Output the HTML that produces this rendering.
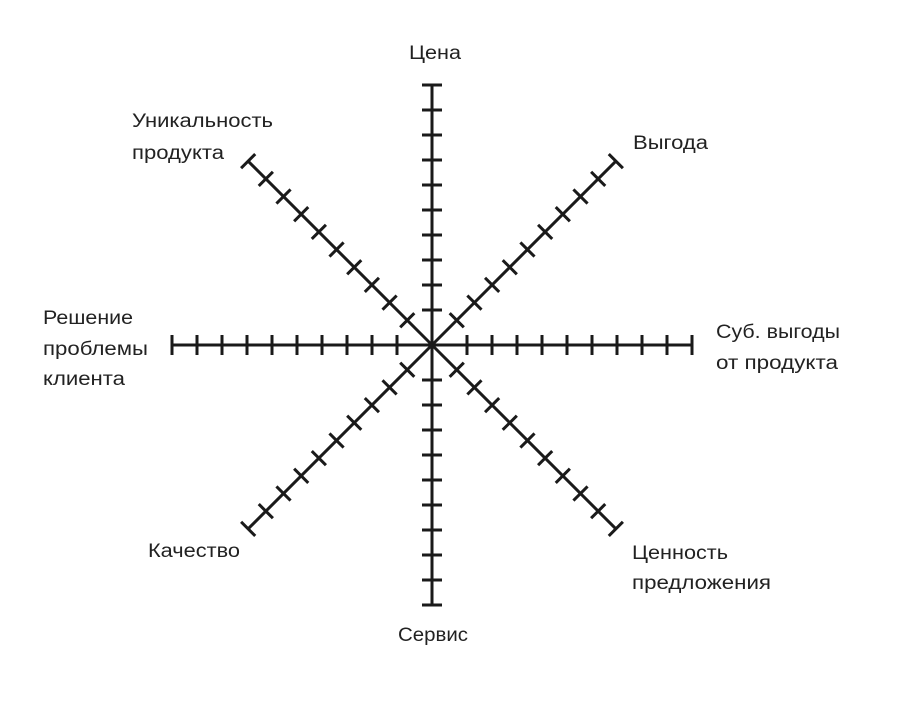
<!DOCTYPE html>
<html><head><meta charset="utf-8"><style>
html,body{margin:0;padding:0;background:#fff;}
svg text{font-family:"Liberation Sans","DejaVu Sans",sans-serif;font-size:19px;fill:#222;}
</style></head><body>
<svg id="chart" width="918" height="696" viewBox="0 0 918 696" xmlns="http://www.w3.org/2000/svg">
<g id="axes"></g>
<g id="labels">
<text x="409" y="59" textLength="52" lengthAdjust="spacingAndGlyphs">Цена</text>
<text x="633" y="149" textLength="75" lengthAdjust="spacingAndGlyphs">Выгода</text>
<text x="132" y="127" textLength="141" lengthAdjust="spacingAndGlyphs">Уникальность</text>
<text x="132" y="159" textLength="92" lengthAdjust="spacingAndGlyphs">продукта</text>
<text x="716" y="338" textLength="124" lengthAdjust="spacingAndGlyphs">Суб. выгоды</text>
<text x="716" y="369" textLength="122" lengthAdjust="spacingAndGlyphs">от продукта</text>
<text x="43" y="324" textLength="90" lengthAdjust="spacingAndGlyphs">Решение</text>
<text x="43" y="355" textLength="105" lengthAdjust="spacingAndGlyphs">проблемы</text>
<text x="43" y="385" textLength="82" lengthAdjust="spacingAndGlyphs">клиента</text>
<text x="148" y="557" textLength="92" lengthAdjust="spacingAndGlyphs">Качество</text>
<text x="398" y="641" textLength="70" lengthAdjust="spacingAndGlyphs">Сервис</text>
<text x="632" y="559" textLength="96" lengthAdjust="spacingAndGlyphs">Ценность</text>
<text x="632" y="589" textLength="139" lengthAdjust="spacingAndGlyphs">предложения</text>
</g>
</svg>
<script>
const axisNames = ["price","benefit","subjective-benefit","offer-value","service","quality","problem-solving","uniqueness"];
const axisAngles = [-90,-45,0,45,90,135,180,225];
const tickCount = [9,9,9,9,9,9,9,9];
const cx=432, cy=345, firstTick=35, step=25, len=260, half=10;
const ns="http://www.w3.org/2000/svg";
const g=document.getElementById('axes');
function ln(x1,y1,x2,y2,name){
  const l=document.createElementNS(ns,'line');
  l.setAttribute('x1',x1);l.setAttribute('y1',y1);l.setAttribute('x2',x2);l.setAttribute('y2',y2);
  l.setAttribute('stroke','#1a1a1a');l.setAttribute('stroke-width','3');
  
  
  g.appendChild(l);
}
axisNames.forEach((n,i)=>{
  const a=axisAngles[i]*Math.PI/180, dx=Math.cos(a), dy=Math.sin(a), px=-dy, py=dx;
  ln(cx,cy,cx+dx*len,cy+dy*len,'axis-'+n);
  const ds=[];
  for(let k=0;k<tickCount[i];k++) ds.push(firstTick+k*step);
  ds.push(len);
  ds.forEach((d,k)=>{
    const x=cx+dx*d,y=cy+dy*d;
    ln(x-px*half,y-py*half,x+px*half,y+py*half,'tick-'+n+'-'+k);
  });
});
</script>
</body></html>
